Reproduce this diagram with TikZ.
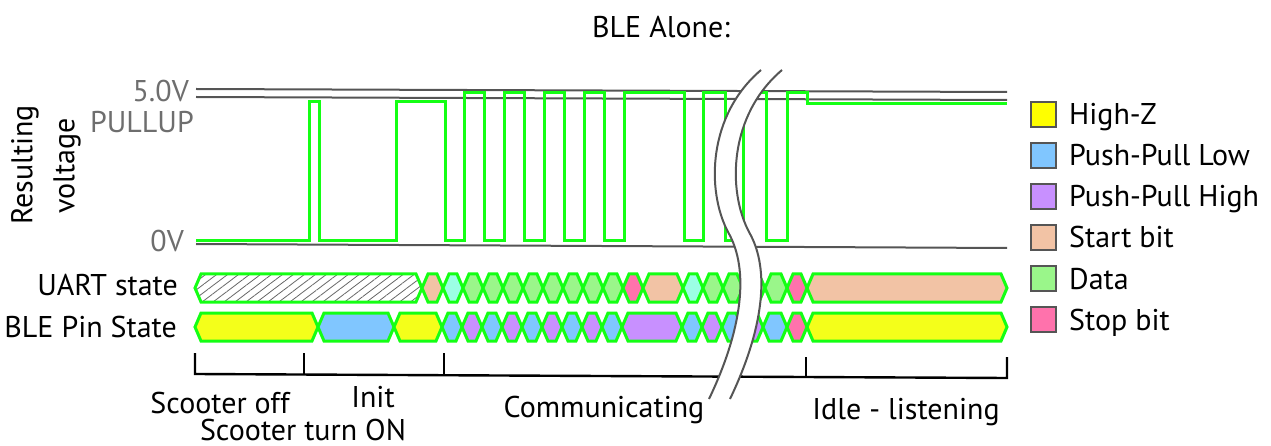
\documentclass[tikz,border=0pt]{standalone}
\usepackage{fontspec}
\setmainfont{PT Sans}
\usepackage{xcolor}
\usepackage{tikz}
\usetikzlibrary{patterns.meta}
\definecolor{siggreen}{HTML}{14FF14}
\definecolor{lvlgray}{HTML}{555555}
\definecolor{labgray}{HTML}{6E6E6E}
\definecolor{hizcol}{HTML}{F4FF1A}
\definecolor{hizlegend}{HTML}{FFFF00}
\definecolor{pplowcol}{HTML}{80C6FF}
\definecolor{pphighcol}{HTML}{C890FF}
\definecolor{startcol}{HTML}{F2C3A5}
\definecolor{datacol}{HTML}{9AF68A}
\definecolor{stopcol}{HTML}{FF72AC}
\definecolor{idlecol}{HTML}{9CFFE4}
\tikzset{every node/.append style={font=\fontsize{30}{36}\selectfont,inner sep=0pt}}

\begin{document}
\begin{tikzpicture}[x=1pt,y=-1pt,
    lvlline/.style={lvlgray,line width=2pt},
    sigline/.style={siggreen,line width=3pt},
    cellbox/.style={draw=siggreen,line width=3pt},
    tickline/.style={black,line width=2.4pt},
    breakline/.style={lvlgray,line width=2pt},
    legbox/.style={draw=lvlgray,line width=2pt}]
  \useasboundingbox (0,0) rectangle (1271,446);
  \node[anchor=base] (title) at (661,38) {BLE Alone:};
  % voltage levels
  \draw[lvlline] (196,89) -- (1007,92);
  \draw[lvlline] (196,97) -- (1007,100);
  \draw[lvlline] (196,244) -- (1007,248);
  \node[labgray,anchor=base east] (vhigh) at (189,102) {5.0V};
  \node[labgray,anchor=base east] (pullup) at (194,133) {PULLUP};
  \node[labgray,anchor=base east] (vlow) at (184,252) {0V};
  \node[rotate=90] (res) at (25,165) {Resulting};
  \node[rotate=90] (volt) at (67,166) {voltage};
  % resulting voltage
  \draw[sigline] (196,241) -| (309,102) -| (319,241) -| (396,102) -| (445,241)
    -| (464,93) -| (484,241) -| (504,93) -| (524,241) -| (544,93) -| (564,241)
    -| (584,93) -| (604,241) -| (624,93) -| (684,241) -| (703,93) -| (725,241)
    -| (743,93) -| (766,241) -| (787,93) -| (807,104) -- (1007,104);
  % UART state
  \node[anchor=base east] (uart) at (178,295) {UART state};
  \draw[cellbox,pattern={Lines[angle=37,distance=6.6pt,line width=0.8pt]},pattern color=black!60]
    (195,288) -- (201,274) -- (416,274) -- (422,288) -- (416,302) -- (201,302) -- cycle;
  \foreach \a/\b/\c in {422/443/startcol,443/463/idlecol,463/483/datacol,483/503/datacol,
      503/523/datacol,523/543/datacol,543/563/datacol,563/583/datacol,583/603/datacol,
      603/623/datacol,623/643/stopcol,643/683/startcol,683/703/idlecol,703/723/datacol,
      723/743/datacol,743/765/datacol,765/787/datacol,787/807/stopcol,807/1007/startcol}
    \draw[cellbox,fill=\c] (\a,288) -- (\a+6,274) -- (\b-6,274) -- (\b,288)
      -- (\b-6,302) -- (\a+6,302) -- cycle;
  % BLE pin state
  \node[anchor=base east] (pin) at (177,337) {BLE Pin State};
  \foreach \a/\b/\c in {195/318/hizcol,318/394/pplowcol,394/442/hizcol,442/462/pplowcol,
      462/482/pphighcol,482/502/pplowcol,502/522/pphighcol,522/542/pplowcol,
      542/562/pphighcol,562/582/pplowcol,582/602/pphighcol,602/622/pplowcol,
      622/682/pphighcol,682/702/pplowcol,702/722/pphighcol,722/742/pplowcol,
      742/763/pphighcol,763/787/pplowcol,787/807/stopcol,807/1007/hizcol}
    \draw[cellbox,fill=\c] (\a,327) -- (\a+6,313) -- (\b-6,313) -- (\b,327)
      -- (\b-6,341) -- (\a+6,341) -- cycle;
  % phases
  \draw[tickline] (195,353) -- (195,374) -- (1007,378) -- (1007,357);
  \foreach \x/\yt/\yb in {304/353/374,444/353/375,806/357/377}
    \draw[tickline] (\x,\yt) -- (\x,\yb);
  \node[anchor=base] (off) at (220,413) {Scooter off};
  \node[anchor=base] (init) at (373,407) {Init};
  \node[anchor=base] (turnon) at (303,440) {Scooter turn ON};
  \node[anchor=base] (comm) at (604,417) {Communicating};
  \node[anchor=base] (idle) at (906,419) {Idle - listening};
  % time break
  \fill[white] (761,70) .. controls (708,115) and (706,190) .. (728,232)
    .. controls (750,270) and (742,330) .. (709,399) -- (730,399)
    .. controls (763,330) and (771,270) .. (749,232)
    .. controls (727,190) and (729,115) .. (782,70) -- cycle;
  \foreach \dx in {0,21}
    \draw[breakline,xshift=\dx] (761,70) .. controls (708,115) and (706,190) .. (728,232)
      .. controls (750,270) and (742,330) .. (709,399);
  % legend
  \foreach \i/\c/\t in {0/hizlegend/High-Z,1/pplowcol/Push-Pull Low,2/pphighcol/Push-Pull High,
      3/startcol/Start bit,4/datacol/Data,5/stopcol/Stop bit} {
    \draw[legbox,fill=\c] (1031,102+41*\i) rectangle ++(25,25);
    \node[anchor=base west] (leg\i) at (1069,125+41*\i) {\t};
  }
\end{tikzpicture}
\end{document}
